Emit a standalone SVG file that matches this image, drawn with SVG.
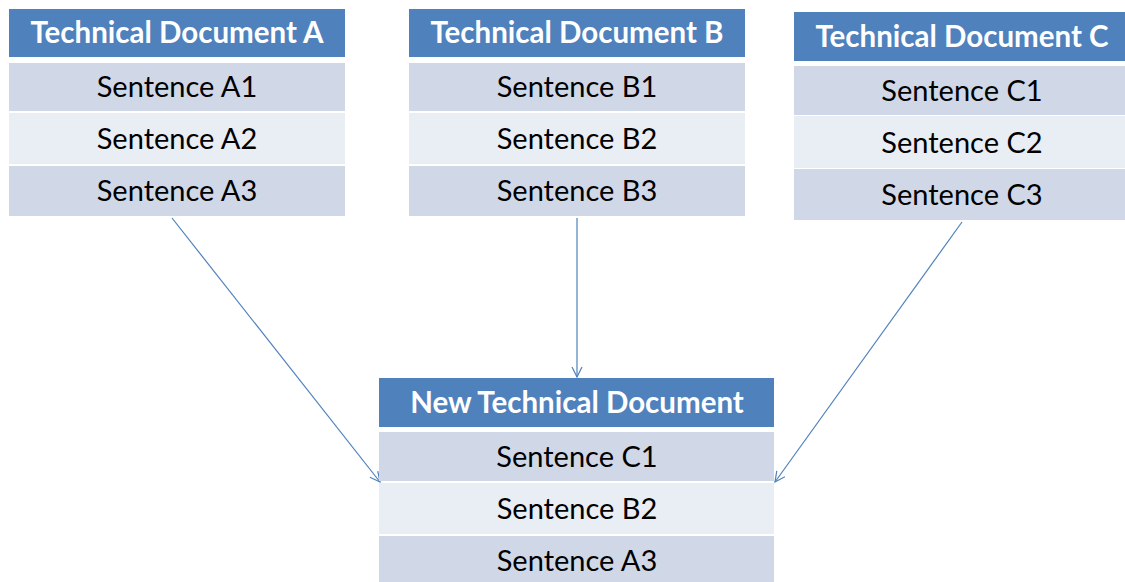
<svg xmlns="http://www.w3.org/2000/svg" width="1125" height="582" viewBox="0 0 1125 582">
<style>
.hd{fill:#4F81BD}
.r1{fill:#D0D8E8}
.r2{fill:#E9EDF4}
.ht{font-family:Lato,"Open Sans",sans-serif;font-weight:bold;font-size:29.5px;fill:#fff;text-anchor:middle}
.st{font-family:Lato,"Open Sans",sans-serif;font-size:29px;fill:#000;text-anchor:middle}
.cn{stroke:#4F81BD;stroke-width:1.2;fill:none;marker-end:url(#ah)}
</style>
<defs>
<marker id="ah" viewBox="0 0 12 12" refX="11" refY="6" markerWidth="12" markerHeight="12" markerUnits="userSpaceOnUse" orient="auto">
<polyline points="1,1 11,6 1,11" fill="none" stroke="#4F81BD" stroke-width="1.2"/>
</marker>
</defs>
<rect width="1125" height="582" fill="#fff"/>
<g id="connectors">
<line class="cn" x1="172" y1="218" x2="380" y2="482"/>
<line class="cn" x1="577" y1="218" x2="577" y2="377"/>
<line class="cn" x1="962" y1="222" x2="775" y2="482"/>
</g>
<g id="docA">
<rect class="hd" x="9" y="9" width="336" height="48"/>
<rect class="r1" x="9" y="63" width="336" height="48"/>
<rect class="r2" x="9" y="113" width="336" height="51"/>
<rect class="r1" x="9" y="166" width="336" height="50"/>
<text class="ht" x="177" y="43">Technical Document A</text>
<text class="st" x="177" y="97">Sentence A1</text>
<text class="st" x="177" y="149">Sentence A2</text>
<text class="st" x="177" y="201">Sentence A3</text>
</g>
<g id="docB">
<rect class="hd" x="409" y="9" width="336" height="48"/>
<rect class="r1" x="409" y="63" width="336" height="48"/>
<rect class="r2" x="409" y="113" width="336" height="51"/>
<rect class="r1" x="409" y="166" width="336" height="50"/>
<text class="ht" x="577" y="43">Technical Document B</text>
<text class="st" x="577" y="97">Sentence B1</text>
<text class="st" x="577" y="149">Sentence B2</text>
<text class="st" x="577" y="201">Sentence B3</text>
</g>
<g id="docC">
<rect class="hd" x="794" y="12" width="331" height="49"/>
<rect class="r1" x="794" y="66" width="331" height="49"/>
<rect class="r2" x="794" y="116" width="331" height="52"/>
<rect class="r1" x="794" y="169" width="331" height="51"/>
<text class="ht" x="962" y="47">Technical Document C</text>
<text class="st" x="962" y="101">Sentence C1</text>
<text class="st" x="962" y="153">Sentence C2</text>
<text class="st" x="962" y="205">Sentence C3</text>
</g>
<g id="newDoc">
<rect class="hd" x="379" y="378" width="395" height="49"/>
<rect class="r1" x="379" y="432" width="395" height="49"/>
<rect class="r2" x="379" y="483" width="395" height="51"/>
<rect class="r1" x="379" y="536" width="395" height="46"/>
<text class="ht" x="577" y="413">New Technical Document</text>
<text class="st" x="577" y="467">Sentence C1</text>
<text class="st" x="577" y="519">Sentence B2</text>
<text class="st" x="577" y="571">Sentence A3</text>
</g>
</svg>
